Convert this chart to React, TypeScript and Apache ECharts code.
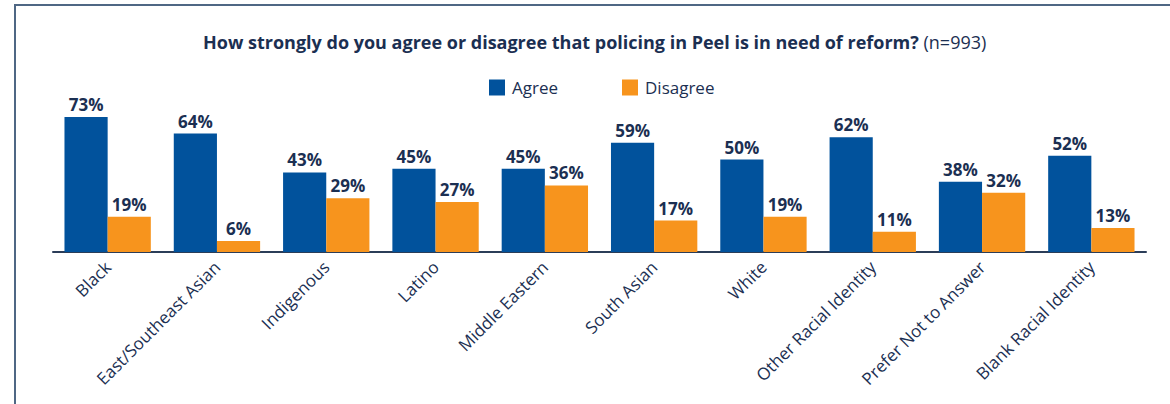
import React, { useEffect, useRef } from "react";
import * as echarts from "echarts";

const categories = [
  "Black",
  "East/Southeast Asian",
  "Indigenous",
  "Latino",
  "Middle Eastern",
  "South Asian",
  "White",
  "Other Racial Identity",
  "Prefer Not to Answer",
  "Blank Racial Identity",
];
const agree = [73, 64, 43, 45, 45, 59, 50, 62, 38, 52];
const disagree = [19, 6, 29, 27, 36, 17, 19, 11, 32, 13];

const NAVY = "#1b2f52";
const BLUE = "#01529c";
const ORANGE = "#f7941d";
const FONT = "Open Sans";

export default function App() {
  const ref = useRef<HTMLDivElement>(null);
  useEffect(() => {
    document.body.style.margin = "0";
    const chart = echarts.init(ref.current!, null, { renderer: "svg" });
    const labelCfg = {
      show: true,
      position: "top",
      distance: 4,
      formatter: "{c}%",
      color: NAVY,
      fontFamily: FONT,
      fontWeight: "bold",
      fontSize: 17,
    };
    chart.setOption({
      animation: false,
      backgroundColor: "#ffffff",
      textStyle: { fontFamily: FONT },
      graphic: [
        {
          type: "rect",
          shape: { x: 15, y: 5, width: 1300, height: 600 },
          style: { fill: "none", stroke: "#4f6784", lineWidth: 2 },
          silent: true,
        },
      ],
      title: {
        left: 198,
        top: 28,
        text: "{b|How strongly do you agree or disagree that policing in Peel is in need of reform?} {n|(n=993)}",
        textStyle: {
          rich: {
            b: { fontFamily: FONT, fontWeight: "bold", fontSize: 18, color: NAVY },
            n: { fontFamily: FONT, fontWeight: "normal", fontSize: 18, color: NAVY },
          },
        },
      },
      legend: {
        left: 484,
        top: 74,
        itemWidth: 16,
        itemHeight: 16,
        itemGap: 64,
        icon: "rect",
        textStyle: { fontFamily: FONT, fontSize: 17, color: NAVY, padding: [0, 0, 0, 2] },
        data: ["Agree", "Disagree"],
      },
      grid: { left: 53, right: 24, top: 67, bottom: 152, containLabel: false },
      xAxis: {
        type: "category",
        data: categories,
        axisLine: { show: true, lineStyle: { color: "#2b3d58", width: 2 } },
        axisTick: { show: false },
        axisLabel: {
          rotate: 45,
          interval: 0,
          margin: 12,
          fontFamily: FONT,
          fontSize: 17,
          color: NAVY,
        },
      },
      yAxis: {
        type: "value",
        min: 0,
        max: 100,
        show: false,
        splitLine: { show: false },
      },
      series: [
        {
          name: "Agree",
          type: "bar",
          data: agree,
          itemStyle: { color: BLUE },
          barGap: "0%",
          barCategoryGap: "21%",
          label: labelCfg,
        },
        {
          name: "Disagree",
          type: "bar",
          data: disagree,
          itemStyle: { color: ORANGE },
          barGap: "0%",
          barCategoryGap: "21%",
          label: labelCfg,
        },
      ],
    });
    return () => chart.dispose();
  }, []);
  return <div ref={ref} style={{ width: 1170, height: 404 }} />;
}
